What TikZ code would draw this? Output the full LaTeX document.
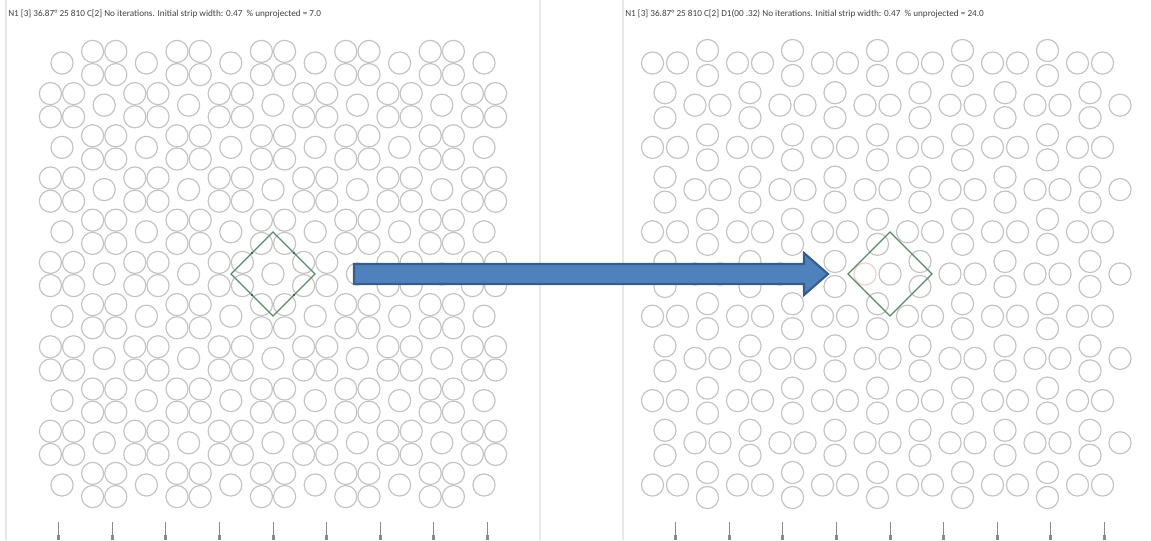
\documentclass[tikz,border=0pt]{standalone}
\usepackage{fontspec}
\setmainfont{Carlito}
\usetikzlibrary{calc}
\definecolor{RingGray}{HTML}{C4C4C4}
\definecolor{FrameGray}{HTML}{E8E8E8}
\definecolor{CellGreen}{HTML}{5C8A68}
\definecolor{FaintRed}{HTML}{F0D2CC}
\definecolor{TickGray}{HTML}{8A8A8A}
\definecolor{ArrowFill}{HTML}{4F81BD}
\definecolor{ArrowEdge}{HTML}{385D8A}
\newcommand{\ringr}{8.3pt}
\tikzset{
    % Rings of the tiling
    ring/.style={
        draw=RingGray,
        line width=0.9pt
    },
    ring faint/.style={
        ring,
        draw=FaintRed
    },
    frame/.style={
        draw=FrameGray,
        line width=0.8pt
    },
    cell/.style={
        draw=CellGreen,
        line width=1pt,
        line join=miter
    },
    cell dot/.style={
        fill=CellGreen!70!black
    },
    title/.style={
        anchor=west,
        inner sep=0pt,
        text=black!75,
        font=\fontsize{6.9}{7.5}\selectfont
    },
    tick/.style={
        draw=TickGray,
        line width=0.5pt
    },
    big arrow/.style={
        draw=ArrowEdge,
        fill=ArrowFill,
        line width=1.6pt,
        line join=miter
    }
}

\begin{document}
\begin{tikzpicture}[x=0.75pt, y=-0.75pt]
        \useasboundingbox (0,0) rectangle (1151,540);

        % Panel frames
        \draw[frame] (6,0) -- (6,540);
        \draw[frame] (540,0) -- (540,540);
        \draw[frame] (623,0) -- (623,540);

        % Titles
        \node[title] (lefttitle) at (8,14) {N1 [3] 36.87° 25 810 C[2] No iterations. Initial strip width: 0.47 \ \% unprojected = 7.0};
        \node[title] (righttitle) at (625,14) {N1 [3] 36.87° 25 810 C[2] D1(00 .32) No iterations. Initial strip width: 0.47 \ \% unprojected = 24.0};

        % Left tiling: single rings and 2x2 clusters
        \foreach \i in {0,...,10}
            \foreach \j in {0,...,10} {
                \pgfmathsetmacro\cx{273+(\i-5)*42.2}
                \pgfmathsetmacro\cy{274+(\j-5)*42.2}
                \pgfmathtruncatemacro\parity{mod(\i+\j,2)}
                \ifnum\parity=0
                    \draw[ring] (\cx,\cy) circle[radius=\ringr];
                \else
                    \foreach \dx/\dy in {-1/-1,1/-1,-1/1,1/1}
                        \draw[ring] ({\cx+11.6*\dx},{\cy+11.6*\dy}) circle[radius=\ringr];
                \fi
            }

        % Right tiling: flat and upright pairs
        \foreach \i in {0,...,10}
            \foreach \j in {0,...,10} {
                \pgfmathsetmacro\cx{877.5+(\i-5)*42.5}
                \pgfmathsetmacro\cy{274+(\j-5)*42.2}
                \pgfmathtruncatemacro\parity{mod(\i+\j,2)}
                \ifnum\parity=0
                    \ifnum\i\j=55
                        \draw[ring faint] ({\cx-12.5},\cy) circle[radius=\ringr];
                    \else
                        \draw[ring] ({\cx-12.5},\cy) circle[radius=\ringr];
                    \fi
                    \draw[ring] ({\cx+12.5},\cy) circle[radius=\ringr];
                \else
                    \draw[ring] (\cx,{\cy-12.5}) circle[radius=\ringr];
                    \draw[ring] (\cx,{\cy+12.5}) circle[radius=\ringr];
                \fi
            }
        \foreach \j in {1,3,...,9}
            \draw[ring] (1120,{274+(\j-5)*42.2}) circle[radius=\ringr];

        % Unit cells
        \coordinate (leftcell) at (273,274);
        \coordinate (rightcell) at (890,274);
        \draw[cell] ($(leftcell)+(0,-42)$) -- ($(leftcell)+(42,0)$) -- ($(leftcell)+(0,42)$) -- ($(leftcell)+(-42,0)$) -- cycle;
        \foreach \dx/\dy in {-21/-21,21/-21,-21/21,21/21}
            \fill[cell dot] ($(leftcell)+(\dx,\dy)$) circle[radius=1.1pt];
        \draw[cell] ($(rightcell)+(0,-42)$) -- ($(rightcell)+(42,0)$) -- ($(rightcell)+(0,42)$) -- ($(rightcell)+(-42,0)$) -- cycle;

        % Axis ticks
        \foreach \k in {-4,...,4} {
            \draw[tick] ({273+53.6*\k},522) -- ++(0,13);
            \fill[TickGray] ({273+53.6*\k-1.5},535) rectangle ++(3,5);
            \draw[tick] ({890+53.6*\k},522) -- ++(0,13);
            \fill[TickGray] ({890+53.6*\k-1.5},535) rectangle ++(3,5);
        }

        % Arrow between the panels
        \coordinate (arrowtail) at (354,274);
        \coordinate (arrowtip) at (828,274);
        \draw[big arrow] ($(arrowtail)+(0,-10)$) -- ($(arrowtip)+(-24,-10)$) -- ($(arrowtip)+(-24,-21)$) -- (arrowtip)
            -- ($(arrowtip)+(-24,21)$) -- ($(arrowtip)+(-24,10)$) -- ($(arrowtail)+(0,10)$) -- cycle;
    \end{tikzpicture}
\end{document}
